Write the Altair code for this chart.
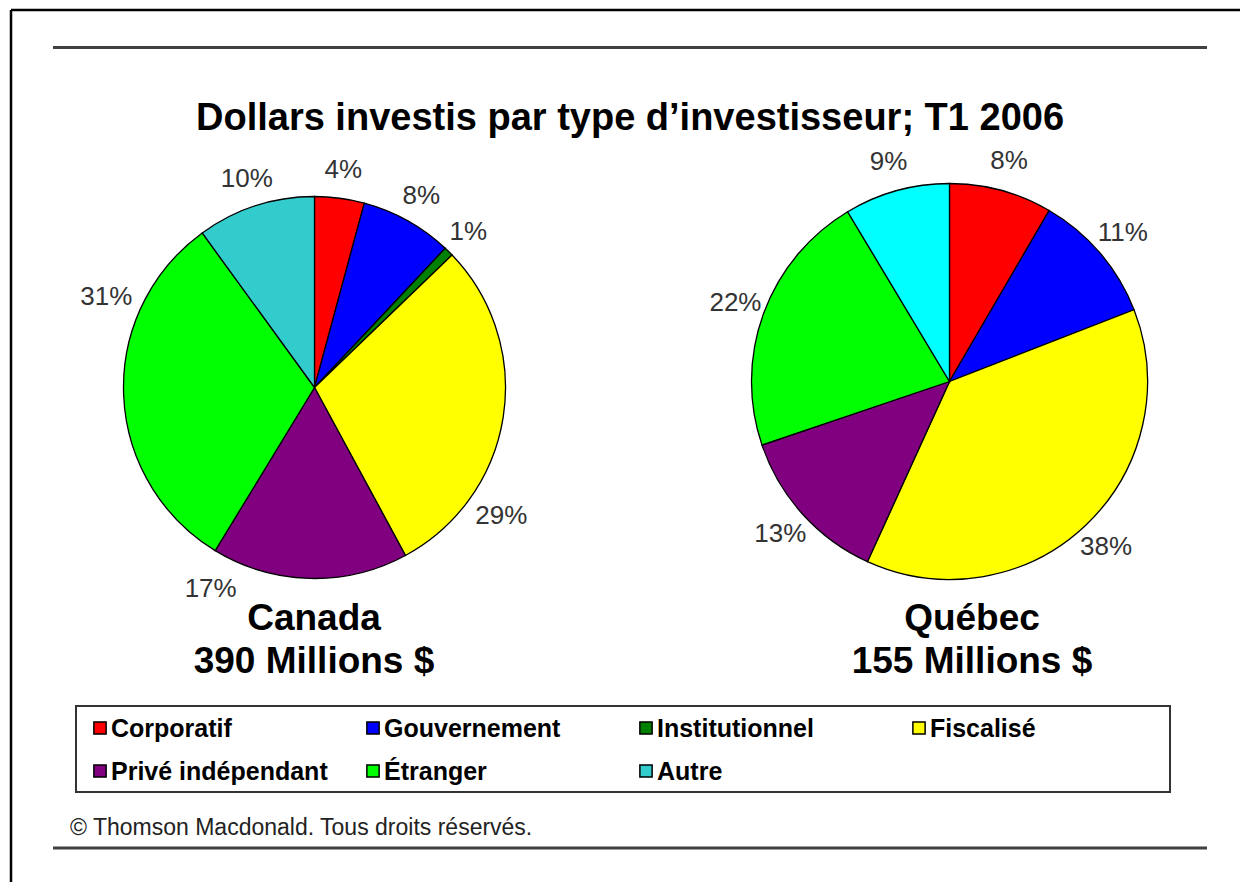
import altair as alt
import pandas as pd

# ---------------- data ----------------
categories = ["Corporatif", "Gouvernement", "Institutionnel", "Fiscalisé",
              "Privé indépendant", "Étranger", "Autre"]
canada_pct = [4.2, 7.8, 0.8, 29.3, 16.6, 31.3, 10.0]
quebec_pct = [8.4, 10.7, 0.0, 37.7, 13.0, 21.6, 8.6]

colors_canada = ["#FF0000", "#0000FF", "#008000", "#FFFF00", "#800080", "#00FF00", "#33CCCC"]
colors_quebec = ["#FF0000", "#0000FF", "#008000", "#FFFF00", "#800080", "#00FF00", "#00FFFF"]

regions = ["Canada", "Québec"]
totals_millions = [390, 155]

title_text = "Dollars investis par type d\u2019investisseur; T1 2006"
copyright_text = "\u00a9 Thomson Macdonald. Tous droits réservés."

# ---------------- layout ----------------
W, H = 1232, 874
SANS = "Liberation Sans, Arial, Helvetica, sans-serif"
one = pd.DataFrame({"k": [0]})


def pie_df(values):
    df = pd.DataFrame({"cat": categories, "pct": values, "idx": range(len(categories))})
    return df[df["pct"] > 0]


def pie(values, colors, cx, cy, r, big_label_shift=0.0):
    base = alt.Chart(pie_df(values)).transform_calculate(
        label="format(datum.pct, '.0f') + '%'"
    ).encode(
        theta=alt.Theta("pct:Q", stack=True),
        order=alt.Order("idx:Q"),
        x=alt.value(cx),
        y=alt.value(cy),
    )
    arc = base.mark_arc(outerRadius=r, stroke="black", strokeWidth=1.3).encode(
        color=alt.Color("cat:N", scale=alt.Scale(domain=categories, range=colors), legend=None)
    )
    out = [arc]
    if big_label_shift:
        small = base.mark_text(radius=r + 28, font=SANS, fontSize=26, color="#333333",
                               align="center", baseline="middle").encode(
            text="label:N", detail="cat:N",
            opacity=alt.condition("datum.pct < 15", alt.value(1), alt.value(0)))
        big = base.mark_text(radius=r + 36, thetaOffset=big_label_shift, font=SANS, fontSize=26,
                             color="#333333", align="center", baseline="middle").encode(
            text="label:N", detail="cat:N",
            opacity=alt.condition("datum.pct >= 15", alt.value(1), alt.value(0)))
        out += [small, big]
    else:
        txt = base.mark_text(radius=r + 30, font=SANS, fontSize=26, color="#333333",
                             align="center", baseline="middle").encode(
            text="label:N", detail="cat:N")
        out.append(txt)
    return out


def rule(**enc):
    return alt.Chart(one).mark_rule(color="#404040", strokeWidth=3).encode(**{k: alt.value(v) for k, v in enc.items()})


layers = []

# outer frame (top and left edges visible)
layers.append(alt.Chart(one).mark_rule(color="black", strokeWidth=2.5).encode(
    x=alt.value(3), x2=alt.value(1240), y=alt.value(2)))
layers.append(alt.Chart(one).mark_rule(color="black", strokeWidth=2.5).encode(
    x=alt.value(3), y=alt.value(2), y2=alt.value(900)))

# horizontal separator lines
layers.append(rule(x=45, x2=1199, y=39.5))
layers.append(rule(x=45, x2=1199, y=840))

# title
layers.append(alt.Chart(pd.DataFrame({"t": [title_text]})).mark_text(
    font=SANS, fontSize=38, fontWeight="bold", color="black", align="center", baseline="alphabetic"
).encode(text="t:N", x=alt.value(622), y=alt.value(122)))

# pies
layers += pie(canada_pct, colors_canada, 306.5, 379.5, 191, big_label_shift=0.45)
layers += pie(quebec_pct, colors_quebec, 941.5, 373.5, 198)

# region labels
label_x = [306, 964]
for i, reg in enumerate(regions):
    d = pd.DataFrame({"region": [reg], "total": [totals_millions[i]]})
    layers.append(alt.Chart(d).mark_text(
        font=SANS, fontSize=37, fontWeight="bold", color="black", align="center", baseline="alphabetic"
    ).encode(text="region:N", x=alt.value(label_x[i]), y=alt.value(622)))
    layers.append(alt.Chart(d).transform_calculate(
        amt="datum.total + ' Millions $'"
    ).mark_text(
        font=SANS, fontSize=37, fontWeight="bold", color="black", align="center", baseline="alphabetic"
    ).encode(text="amt:N", x=alt.value(label_x[i]), y=alt.value(665)))

# legend box
layers.append(alt.Chart(one).mark_rect(fillOpacity=0, stroke="#333333", strokeWidth=2).encode(
    x=alt.value(68), x2=alt.value(1162), y=alt.value(698), y2=alt.value(784)))

legend_df = pd.DataFrame({"cat": categories, "idx": range(len(categories))})
leg_base = alt.Chart(legend_df).transform_calculate(
    col="datum.idx % 4", row="floor(datum.idx / 4)"
).encode(
    x=alt.X("col:Q", scale=alt.Scale(domain=[0, 3], range=[92, 911], nice=False, zero=False), axis=None),
    y=alt.Y("row:Q", scale=alt.Scale(domain=[0, 1], range=[720, 763], nice=False, zero=False), axis=None),
)
layers.append(leg_base.mark_square(size=150, stroke="black", strokeWidth=1.5, opacity=1).encode(
    color=alt.Color("cat:N", scale=alt.Scale(domain=categories, range=colors_canada), legend=None)))
layers.append(leg_base.mark_text(font=SANS, fontSize=25, fontWeight="bold", color="black",
                                 align="left", baseline="middle", dx=11, dy=1).encode(text="cat:N"))

# copyright
layers.append(alt.Chart(pd.DataFrame({"t": [copyright_text]})).mark_text(
    font=SANS, fontSize=23, color="#222222", align="left", baseline="alphabetic"
).encode(text="t:N", x=alt.value(62), y=alt.value(827)))

chart = alt.layer(*layers).resolve_scale(
    theta="independent", color="independent"
).properties(
    width=W, height=H, padding=0,
    autosize=alt.AutoSizeParams(type="none"),
    background="white",
).configure_view(stroke=None)

chart.save("out.html", embed_options={"renderer": "svg", "actions": False})
